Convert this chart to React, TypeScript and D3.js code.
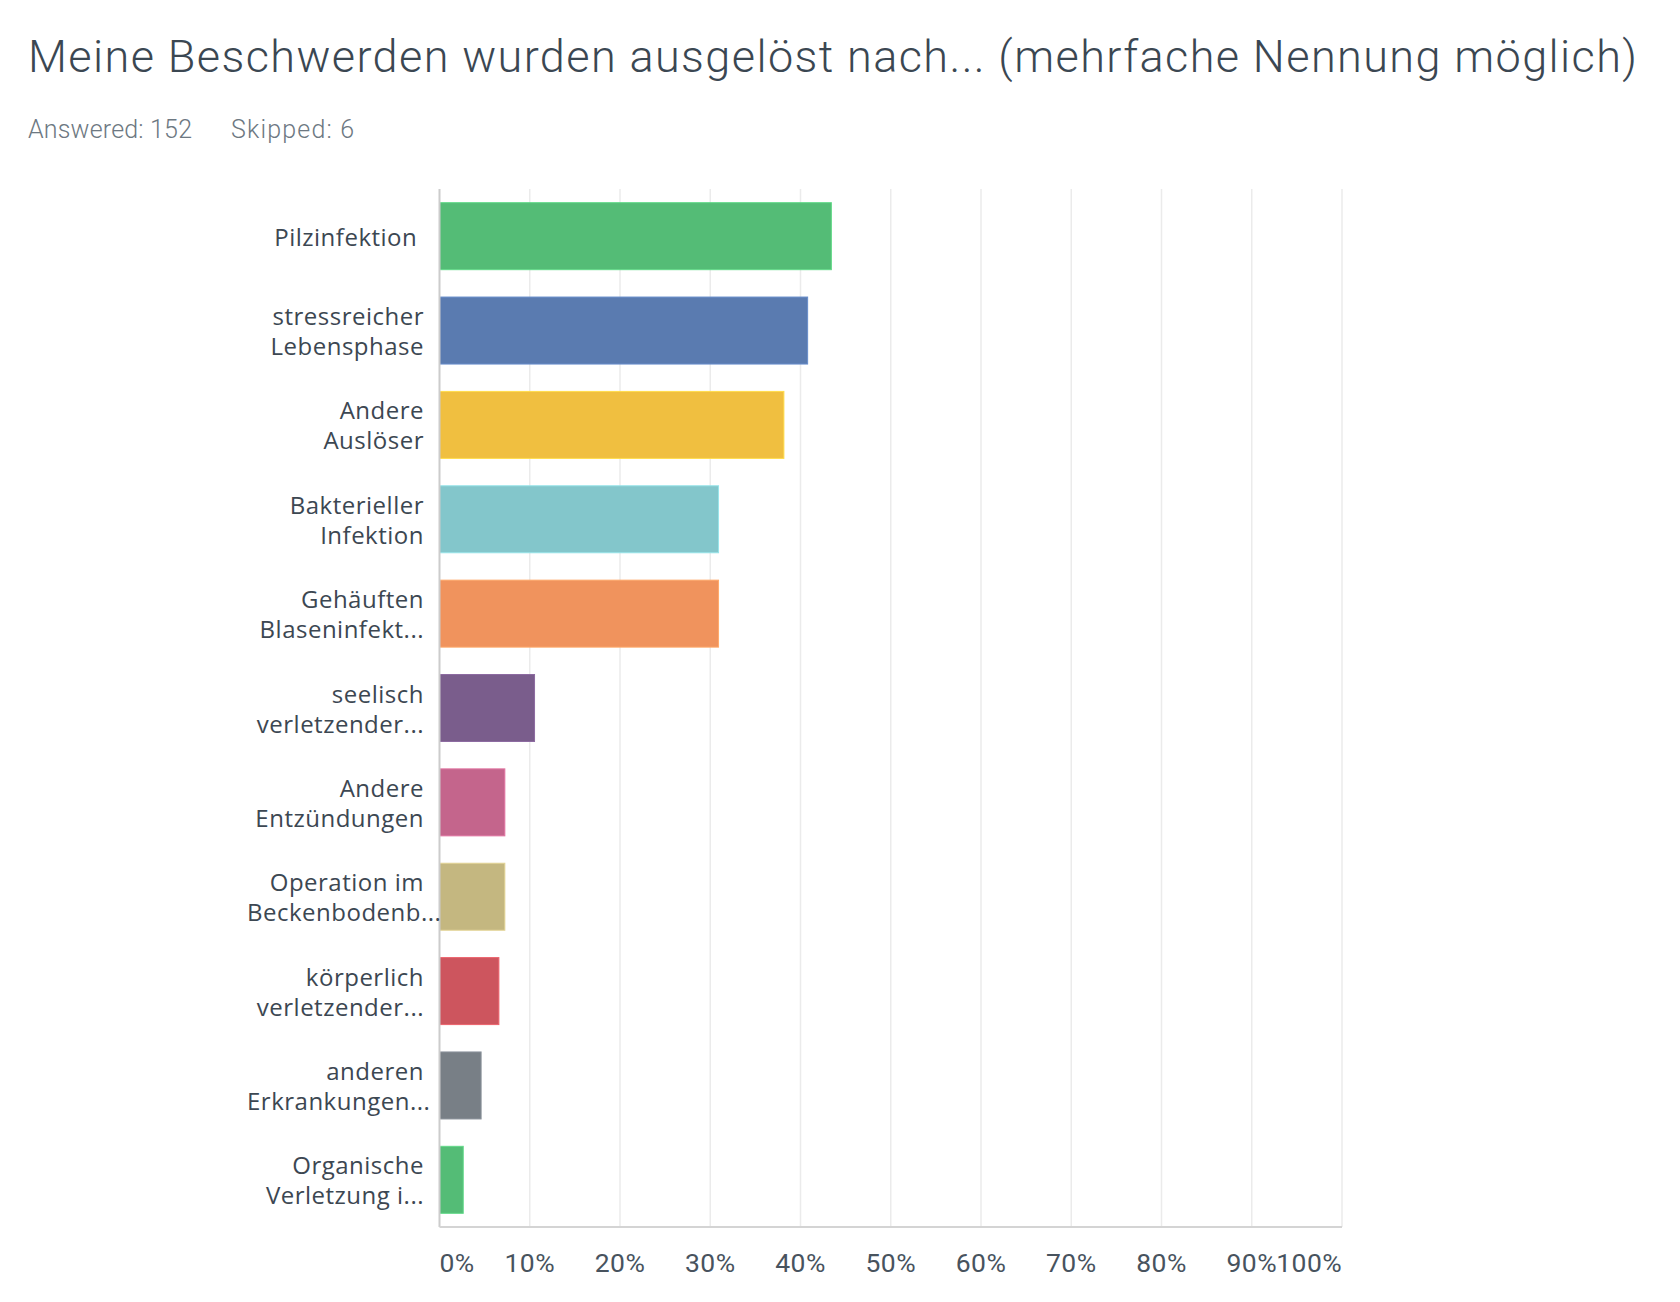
import React, { useEffect, useRef } from 'react';
import * as d3 from 'd3';

const TITLE = 'Meine Beschwerden wurden ausgelöst nach... (mehrfache Nennung möglich)';
const ANSWERED = 'Answered: 152';
const SKIPPED = 'Skipped: 6';

const categories: string[][] = [
  ['Pilzinfektion '],
  ['stressreicher', 'Lebensphase'],
  ['Andere', 'Auslöser'],
  ['Bakterieller', 'Infektion'],
  ['Gehäuften', 'Blaseninfekt...'],
  ['seelisch', 'verletzender...'],
  ['Andere', 'Entzündungen'],
  ['Operation im', 'Beckenbodenb...'],
  ['körperlich', 'verletzender...'],
  ['anderen', 'Erkrankungen...'],
  ['Organische', 'Verletzung i...'],
];

const values: number[] = [43.42, 40.79, 38.16, 30.92, 30.92, 10.53, 7.24, 7.24, 6.58, 4.61, 2.63];

const colors: string[] = [
  '#54bc76', '#5a7bb0', '#f0bf40', '#83c6cb', '#f0935d',
  '#7a5d8c', '#c4658c', '#c4b780', '#cd555e', '#787f86', '#54bc76',
];

const xTicks: number[] = [0, 10, 20, 30, 40, 50, 60, 70, 80, 90, 100];

const W = 1680;
const H = 1302;

export default function App() {
  const ref = useRef<SVGSVGElement | null>(null);

  useEffect(() => {
    const svg = d3.select(ref.current);
    svg.selectAll('*').remove();

    const left = 439.5, right = 1342, top = 189, bottom = 1227;

    const x = d3.scaleLinear().domain([0, 100]).range([left, right]);
    const y = d3.scaleBand<number>()
      .domain(d3.range(categories.length))
      .range([top, bottom])
      .paddingInner(0.29)
      .paddingOuter(0.145);

    svg.append('rect').attr('width', W).attr('height', H).attr('fill', '#ffffff');

    // Title
    svg.append('text')
      .attr('x', 28).attr('y', 72)
      .attr('font-family', 'Roboto, sans-serif')
      .attr('font-weight', 300)
      .attr('font-size', 45)
      .attr('fill', '#3b4752')
      .attr('textLength', 1609)
      .attr('lengthAdjust', 'spacing')
      .text(TITLE);

    svg.append('text')
      .attr('x', 28).attr('y', 138)
      .attr('font-family', 'Roboto, sans-serif')
      .attr('font-weight', 300)
      .attr('font-size', 25)
      .attr('fill', '#6d7882')
      .attr('textLength', 164)
      .text(ANSWERED);

    svg.append('text')
      .attr('x', 231).attr('y', 138)
      .attr('font-family', 'Roboto, sans-serif')
      .attr('font-weight', 300)
      .attr('font-size', 25)
      .attr('fill', '#6d7882')
      .attr('textLength', 123)
      .text(SKIPPED);

    // Gridlines
    svg.append('g')
      .selectAll('line')
      .data(xTicks.filter((t) => t > 0))
      .join('line')
      .attr('x1', (d) => x(d)).attr('x2', (d) => x(d))
      .attr('y1', top).attr('y2', bottom)
      .attr('stroke', '#ebebeb')
      .attr('stroke-width', 1.5);

    // Bars
    svg.append('g')
      .selectAll('rect')
      .data(values)
      .join('rect')
      .attr('x', x(0))
      .attr('y', (_, i) => y(i) as number)
      .attr('width', (d) => x(d) - x(0))
      .attr('height', y.bandwidth())
      .attr('fill', (_, i) => colors[i])
      .attr('stroke', (_, i) => d3.color(colors[i])!.brighter(0.4).formatHex())
      .attr('stroke-width', 1);

    // Axes lines
    svg.append('line')
      .attr('x1', left).attr('x2', left)
      .attr('y1', top).attr('y2', bottom)
      .attr('stroke', '#cccccc').attr('stroke-width', 2);
    svg.append('line')
      .attr('x1', left).attr('x2', right)
      .attr('y1', bottom).attr('y2', bottom)
      .attr('stroke', '#d4d4d4').attr('stroke-width', 2);

    // Tick labels
    svg.append('g')
      .selectAll('text')
      .data(xTicks)
      .join('text')
      .attr('x', (d) => x(d))
      .attr('y', 1272)
      .attr('text-anchor', (d, i) => (i === 0 ? 'start' : i === xTicks.length - 1 ? 'end' : 'middle'))
      .attr('font-family', 'Roboto, sans-serif')
      .attr('font-size', 26.5)
      .attr('letter-spacing', 0.4)
      .attr('fill', '#48535e')
      .text((d) => `${d}%`);

    // Category labels
    const labelRight = 424;
    const labelLeft = 247;
    const boxW = labelRight - labelLeft;
    const lg = svg.append('g');
    categories.forEach((lines, i) => {
      const c = (y(i) as number) + y.bandwidth() / 2;
      lines.forEach((ln, j) => {
        const by = c + 9.5 + (j - (lines.length - 1) / 2) * 30;
        const t = lg.append('text')
          .attr('y', by)
          .attr('font-family', '"Open Sans", sans-serif')
          .attr('font-size', 24)
          .attr('letter-spacing', 0.5)
          .attr('fill', '#3c4752')
          .style('white-space', 'pre')
          .text(ln);
        const w = (t.node() as SVGTextElement).getComputedTextLength();
        if (w > boxW) {
          t.attr('x', labelLeft).attr('text-anchor', 'start');
        } else {
          t.attr('x', labelRight).attr('text-anchor', 'end');
        }
      });
    });
  }, []);

  return (
    <svg
      ref={ref}
      width={W}
      height={H}
      style={{ position: 'absolute', left: 0, top: 0, display: 'block' }}
    />
  );
}
